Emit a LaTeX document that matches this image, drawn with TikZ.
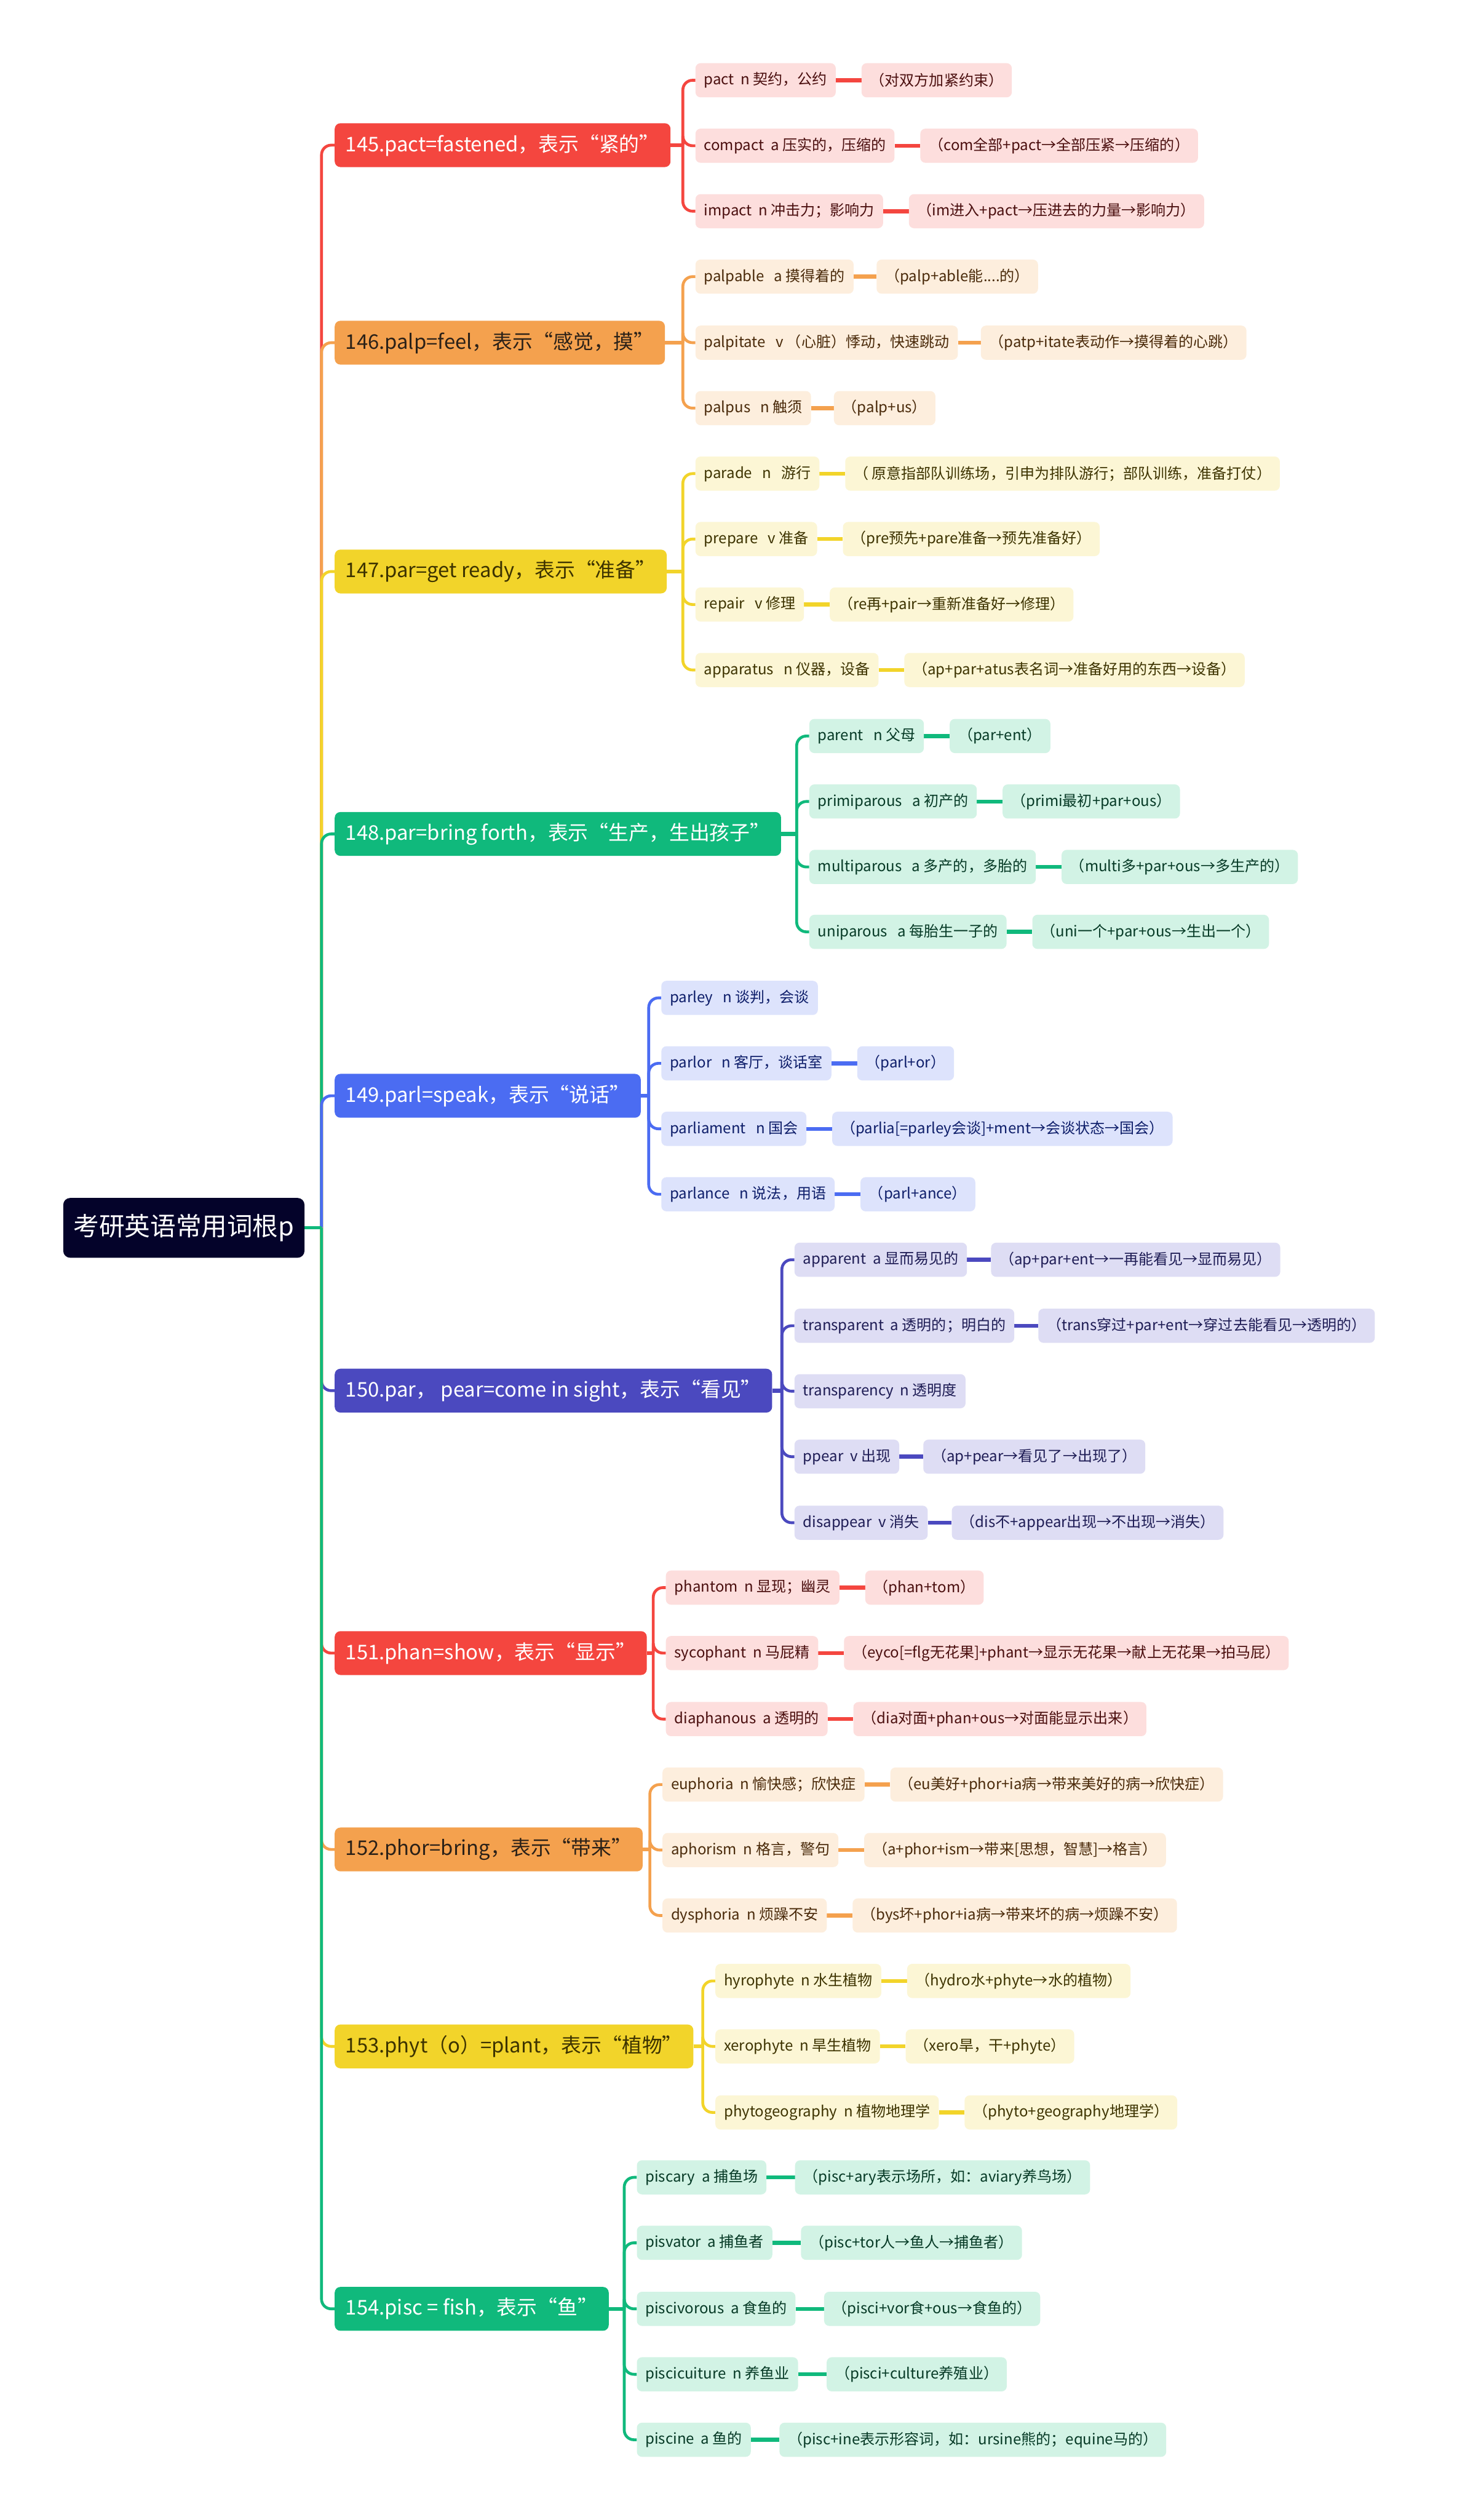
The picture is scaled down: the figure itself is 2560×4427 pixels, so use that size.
\documentclass[tikz,border=0pt]{standalone}
\usepackage{fontspec}
\setmainfont{Noto Sans CJK SC}
\usetikzlibrary{positioning}
\definecolor{rootc}{HTML}{04032A}
\definecolor{redc}{HTML}{F4463F}
\definecolor{redl}{HTML}{FDDEDD}
\definecolor{redt}{HTML}{4A0E0E}
\definecolor{orac}{HTML}{F4A14E}
\definecolor{oral}{HTML}{FDEEDD}
\definecolor{orat}{HTML}{4A2A0A}
\definecolor{orabt}{HTML}{2B2118}
\definecolor{yelc}{HTML}{F2D42A}
\definecolor{yell}{HTML}{FCF6D5}
\definecolor{yelt}{HTML}{3D3300}
\definecolor{grec}{HTML}{10B97C}
\definecolor{grel}{HTML}{D2F3E5}
\definecolor{gret}{HTML}{063A26}
\definecolor{bluc}{HTML}{4B6CF2}
\definecolor{blul}{HTML}{DDE3FC}
\definecolor{blut}{HTML}{0E1E6A}
\definecolor{indc}{HTML}{4B49BF}
\definecolor{indl}{HTML}{DEDDF4}
\definecolor{indt}{HTML}{1E1C55}
\pgfdeclarelayer{bg}
\pgfsetlayers{bg,main}
\tikzset{
  rootbox/.style={rounded corners=12pt, fill=rootc, text=white, font=\fontsize{45pt}{51pt}\selectfont, minimum height=105pt, inner xsep=18pt, anchor=west},
  branchbox/.style={rounded corners=10pt, minimum height=77pt, inner xsep=19pt, anchor=west, font=\fontsize{35.5pt}{41pt}\selectfont},
  childbox/.style={rounded corners=9pt, minimum height=60pt, inner xsep=15pt, anchor=west, font=\fontsize{26pt}{31pt}\selectfont},
  link/.style={line width=5pt, rounded corners=17pt},
  bar/.style={line width=7pt},
  rb/.style={branchbox, fill=redc, text=white},
  rc/.style={childbox, fill=redl, text=redt},
  ob/.style={branchbox, fill=orac, text=orabt},
  oc/.style={childbox, fill=oral, text=orat},
  yb/.style={branchbox, fill=yelc, text=yelt},
  yc/.style={childbox, fill=yell, text=yelt},
  gb/.style={branchbox, fill=grec, text=white},
  gc/.style={childbox, fill=grel, text=gret},
  bb/.style={branchbox, fill=bluc, text=white},
  bc/.style={childbox, fill=blul, text=blut},
  ib/.style={branchbox, fill=indc, text=white},
  ic/.style={childbox, fill=indl, text=indt},
}
\begin{document}
\begin{tikzpicture}[x=1pt,y=-1pt]
\useasboundingbox (0,0) rectangle (2560,4427);
\begin{pgfonlayer}{bg}
\fill[white] (0,0) rectangle (2560,4427);
\end{pgfonlayer}

% root
\node[rootbox] (root) at (111,2157) {考研英语常用词根p};
\coordinate (J) at (565,2157);

% branches
\node[rb] (b145) at (588,255) {145.pact=fastened，表示“紧的”};
\node[ob] (b146) at (588,602) {146.palp=feel，表示“感觉，摸”};
\node[yb] (b147) at (588,1004) {147.par=get ready，表示“准备”};
\node[gb] (b148) at (588,1465) {148.par=bring forth，表示“生产，生出孩子”};
\node[bb] (b149) at (588,1925) {149.parl=speak，表示“说话”};
\node[ib] (b150) at (588,2443) {150.par，\ pear=come in sight，表示“看见”};
\node[rb] (b151) at (588,2904) {151.phan=show，表示“显示”};
\node[ob] (b152) at (588,3249) {152.phor=bring，表示“带来”};
\node[yb] (b153) at (588,3595) {153.phyt（o）=plant，表示“植物”};
\node[gb] (b154) at (588,4056) {154.pisc = fish，表示“鱼”};

% 145
\node[rc] (c145a) at (1222,141) {pact~ n 契约，公约};
\node[rc] (c145b) at (1222,256) {compact~ a 压实的，压缩的};
\node[rc] (c145c) at (1222,371) {impact~ n 冲击力；影响力};
\node[rc, right=45pt of c145a] (d145a) {（对双方加紧约束）};
\node[rc, right=45pt of c145b] (d145b) {（com全部+pact→全部压紧→压缩的）};
\node[rc, right=45pt of c145c] (d145c) {（im进入+pact→压进去的力量→影响力）};
% 146
\node[oc] (c146a) at (1222,486) {palpable~~ a 摸得着的};
\node[oc] (c146b) at (1222,602) {palpitate~~ v （心脏）悸动，快速跳动};
\node[oc] (c146c) at (1222,717) {palpus~~ n 触须};
\node[oc, right=40pt of c146a] (d146a) {（palp+able能....的）};
\node[oc, right=40pt of c146b] (d146b) {（patp+itate表动作→摸得着的心跳）};
\node[oc, right=40pt of c146c] (d146c) {（palp+us）};
% 147
\node[yc] (c147a) at (1222,832) {parade~~ n~~ 游行};
\node[yc] (c147b) at (1222,947) {prepare~~ v 准备};
\node[yc] (c147c) at (1222,1062) {repair~~ v 修理};
\node[yc] (c147d) at (1222,1177) {apparatus~~ n 仪器，设备};
\node[yc, right=45pt of c147a] (d147a) {（ 原意指部队训练场，引申为排队游行；部队训练，准备打仗）};
\node[yc, right=45pt of c147b] (d147b) {（pre预先+pare准备→预先准备好）};
\node[yc, right=45pt of c147c] (d147c) {（re再+pair→重新准备好→修理）};
\node[yc, right=45pt of c147d] (d147d) {（ap+par+atus表名词→准备好用的东西→设备）};
% 148
\node[gc] (c148a) at (1422,1293) {parent~~ n 父母};
\node[gc] (c148b) at (1422,1408) {primiparous~~ a 初产的};
\node[gc] (c148c) at (1422,1523) {multiparous~~ a 多产的，多胎的};
\node[gc] (c148d) at (1422,1637) {uniparous~~ a 每胎生一子的};
\node[gc, right=45pt of c148a] (d148a) {（par+ent）};
\node[gc, right=45pt of c148b] (d148b) {（primi最初+par+ous）};
\node[gc, right=45pt of c148c] (d148c) {（multi多+par+ous→多生产的）};
\node[gc, right=45pt of c148d] (d148d) {（uni一个+par+ous→生出一个）};
% 149
\node[bc] (c149a) at (1162,1753) {parley~~ n 谈判，会谈};
\node[bc] (c149b) at (1162,1868) {parlor~~ n 客厅，谈话室};
\node[bc] (c149c) at (1162,1983) {parliament~~ n 国会};
\node[bc] (c149d) at (1162,2098) {parlance~~ n 说法，用语};
\node[bc, right=45pt of c149b] (d149b) {（parl+or）};
\node[bc, right=45pt of c149c] (d149c) {（parlia[=parley会谈]+ment→会谈状态→国会）};
\node[bc, right=45pt of c149d] (d149d) {（parl+ance）};
% 150
\node[ic] (c150a) at (1396,2213) {apparent~ a 显而易见的};
\node[ic] (c150b) at (1396,2329) {transparent~ a 透明的；明白的};
\node[ic] (c150c) at (1396,2444) {transparency~ n 透明度};
\node[ic] (c150d) at (1396,2559) {ppear~ v 出现};
\node[ic] (c150e) at (1396,2675) {disappear~ v 消失};
\node[ic, right=42pt of c150a] (d150a) {（ap+par+ent→一再能看见→显而易见）};
\node[ic, right=42pt of c150b] (d150b) {（trans穿过+par+ent→穿过去能看见→透明的）};
\node[ic, right=42pt of c150d] (d150d) {（ap+pear→看见了→出现了）};
\node[ic, right=42pt of c150e] (d150e) {（dis不+appear出现→不出现→消失）};
% 151
\node[rc] (c151a) at (1170,2789) {phantom~ n 显现；幽灵};
\node[rc] (c151b) at (1170,2904) {sycophant~ n 马屁精};
\node[rc] (c151c) at (1170,3020) {diaphanous~ a 透明的};
\node[rc, right=45pt of c151a] (d151a) {（phan+tom）};
\node[rc, right=45pt of c151b] (d151b) {（eyco[=flg无花果]+phant→显示无花果→献上无花果→拍马屁）};
\node[rc, right=45pt of c151c] (d151c) {（dia对面+phan+ous→对面能显示出来）};
% 152
\node[oc] (c152a) at (1164,3135) {euphoria~ n 愉快感；欣快症};
\node[oc] (c152b) at (1164,3250) {aphorism~ n 格言，警句};
\node[oc] (c152c) at (1164,3365) {dysphoria~ n 烦躁不安};
\node[oc, right=45pt of c152a] (d152a) {（eu美好+phor+ia病→带来美好的病→欣快症）};
\node[oc, right=45pt of c152b] (d152b) {（a+phor+ism→带来[思想，智慧]→格言）};
\node[oc, right=45pt of c152c] (d152c) {（bys坏+phor+ia病→带来坏的病→烦躁不安）};
% 153
\node[yc] (c153a) at (1257,3480) {hyrophyte~ n 水生植物};
\node[yc] (c153b) at (1257,3595) {xerophyte~ n 旱生植物};
\node[yc] (c153c) at (1257,3711) {phytogeography~ n 植物地理学};
\node[yc, right=45pt of c153a] (d153a) {（hydro水+phyte→水的植物）};
\node[yc, right=45pt of c153b] (d153b) {（xero旱，干+phyte）};
\node[yc, right=45pt of c153c] (d153c) {（phyto+geography地理学）};
% 154
\node[gc] (c154a) at (1119,3825) {piscary~ a 捕鱼场};
\node[gc] (c154b) at (1119,3940) {pisvator~ a 捕鱼者};
\node[gc] (c154c) at (1119,4056) {piscivorous~ a 食鱼的};
\node[gc] (c154d) at (1119,4171) {piscicuiture~ n 养鱼业};
\node[gc] (c154e) at (1119,4286) {piscine~ a 鱼的};
\node[gc, right=50pt of c154a] (d154a) {（pisc+ary表示场所，如：aviary养鸟场）};
\node[gc, right=50pt of c154b] (d154b) {（pisc+tor人→鱼人→捕鱼者）};
\node[gc, right=50pt of c154c] (d154c) {（pisci+vor食+ous→食鱼的）};
\node[gc, right=50pt of c154d] (d154d) {（pisci+culture养殖业）};
\node[gc, right=50pt of c154e] (d154e) {（pisc+ine表示形容词，如：ursine熊的；equine马的）};

% sub-trunk points
\coordinate (s145) at (1200,255);
\coordinate (s146) at (1200,602);
\coordinate (s147) at (1200,1004);
\coordinate (s148) at (1400,1465);
\coordinate (s149) at (1140,1925);
\coordinate (s150) at (1374,2443);
\coordinate (s151) at (1148,2904);
\coordinate (s152) at (1142,3249);
\coordinate (s153) at (1235,3595);
\coordinate (s154) at (1097,4056);

\begin{pgfonlayer}{bg}
% main connectors, drawn in order so later ones lie on top
\draw[link, redc] (J) -- (J |- b145.west) -- (b145.west);
\draw[link, orac] (J) -- (J |- b146.west) -- (b146.west);
\draw[link, yelc] (J) -- (J |- b147.west) -- (b147.west);
\draw[link, grec] (J) -- (J |- b148.west) -- (b148.west);
\draw[link, bluc] (J) -- (J |- b149.west) -- (b149.west);
\draw[link, indc] (J) -- (J |- b150.west) -- (b150.west);
\draw[link, redc] (J) -- (J |- b151.west) -- (b151.west);
\draw[link, orac] (J) -- (J |- b152.west) -- (b152.west);
\draw[link, yelc] (J) -- (J |- b153.west) -- (b153.west);
\draw[link, grec] (J) -- (J |- b154.west) -- (b154.west);
\draw[line width=5pt, grec] (root.east) -- (J);

% 145
\draw[bar, redc] (b145.east) -- (s145);
\foreach \c in {c145a,c145b,c145c} \draw[link, redc] (s145) -- (s145 |- \c.west) -- (\c.west);
\foreach \c in {a,b,c} \draw[bar, redc] (c145\c.east) -- (d145\c.west);
% 146
\draw[bar, orac] (b146.east) -- (s146);
\foreach \c in {c146a,c146b,c146c} \draw[link, orac] (s146) -- (s146 |- \c.west) -- (\c.west);
\foreach \c in {a,b,c} \draw[bar, orac] (c146\c.east) -- (d146\c.west);
% 147
\draw[bar, yelc] (b147.east) -- (s147);
\foreach \c in {c147a,c147b,c147c,c147d} \draw[link, yelc] (s147) -- (s147 |- \c.west) -- (\c.west);
\foreach \c in {a,b,c,d} \draw[bar, yelc] (c147\c.east) -- (d147\c.west);
% 148
\draw[bar, grec] (b148.east) -- (s148);
\foreach \c in {c148a,c148b,c148c,c148d} \draw[link, grec] (s148) -- (s148 |- \c.west) -- (\c.west);
\foreach \c in {a,b,c,d} \draw[bar, grec] (c148\c.east) -- (d148\c.west);
% 149
\draw[bar, bluc] (b149.east) -- (s149);
\foreach \c in {c149a,c149b,c149c,c149d} \draw[link, bluc] (s149) -- (s149 |- \c.west) -- (\c.west);
\foreach \c in {b,c,d} \draw[bar, bluc] (c149\c.east) -- (d149\c.west);
% 150
\draw[bar, indc] (b150.east) -- (s150);
\foreach \c in {c150a,c150b,c150c,c150d,c150e} \draw[link, indc] (s150) -- (s150 |- \c.west) -- (\c.west);
\foreach \c in {a,b,d,e} \draw[bar, indc] (c150\c.east) -- (d150\c.west);
% 151
\draw[bar, redc] (b151.east) -- (s151);
\foreach \c in {c151a,c151b,c151c} \draw[link, redc] (s151) -- (s151 |- \c.west) -- (\c.west);
\foreach \c in {a,b,c} \draw[bar, redc] (c151\c.east) -- (d151\c.west);
% 152
\draw[bar, orac] (b152.east) -- (s152);
\foreach \c in {c152a,c152b,c152c} \draw[link, orac] (s152) -- (s152 |- \c.west) -- (\c.west);
\foreach \c in {a,b,c} \draw[bar, orac] (c152\c.east) -- (d152\c.west);
% 153
\draw[bar, yelc] (b153.east) -- (s153);
\foreach \c in {c153a,c153b,c153c} \draw[link, yelc] (s153) -- (s153 |- \c.west) -- (\c.west);
\foreach \c in {a,b,c} \draw[bar, yelc] (c153\c.east) -- (d153\c.west);
% 154
\draw[bar, grec] (b154.east) -- (s154);
\foreach \c in {c154a,c154b,c154c,c154d,c154e} \draw[link, grec] (s154) -- (s154 |- \c.west) -- (\c.west);
\foreach \c in {a,b,c,d,e} \draw[bar, grec] (c154\c.east) -- (d154\c.west);
\end{pgfonlayer}
\end{tikzpicture}
\end{document}
